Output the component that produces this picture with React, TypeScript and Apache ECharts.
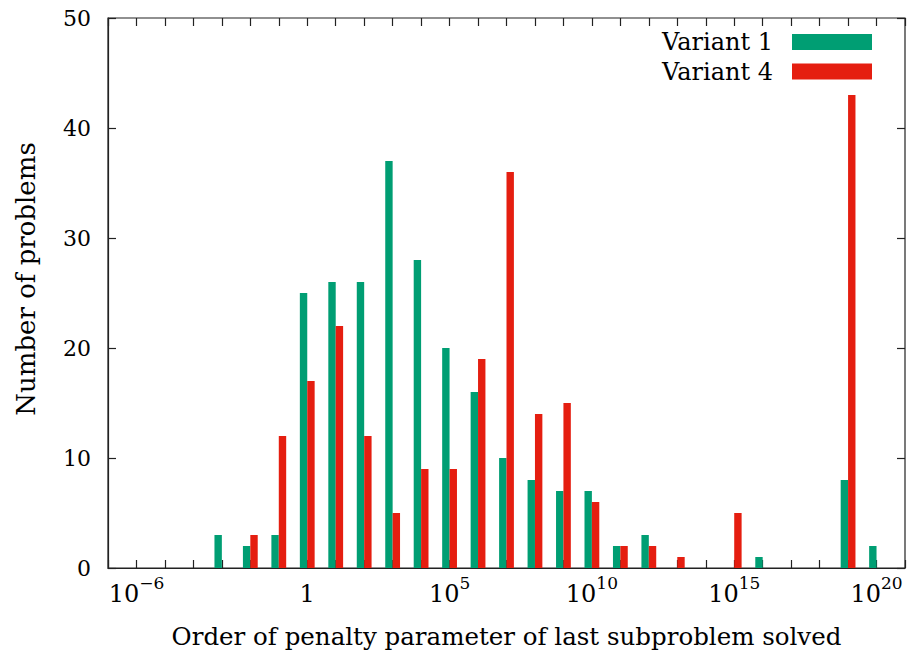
import React, { useEffect, useRef } from "react";
import * as echarts from "echarts";

// Exponent n of the penalty parameter (10^n)
const exponents = [-3, -2, -1, 0, 1, 2, 3, 4, 5, 6, 7, 8, 9, 10, 11, 12, 13, 14, 15, 16, 17, 18, 19, 20];
const variant1 = [3, 2, 3, 25, 26, 26, 37, 28, 20, 16, 10, 8, 7, 7, 2, 3, 0, 0, 0, 1, 0, 0, 8, 2];
const variant4 = [0, 3, 12, 17, 22, 12, 5, 9, 9, 19, 36, 14, 15, 6, 2, 2, 1, 0, 5, 0, 0, 0, 43, 0];
const labeledExponents = [-6, 0, 5, 10, 15, 20];
const yTicks = [0, 10, 20, 30, 40, 50];

const FONT = "DejaVu Serif";
const GREEN = "#009e73";
const RED = "#e51e10";

export default function App() {
  const ref = useRef<HTMLDivElement>(null);
  useEffect(() => {
    if (!ref.current) return;
    const chart = echarts.init(ref.current, undefined, { renderer: "svg" });
    const toData = (vals: number[]) =>
      exponents.map((e, i) => [e, vals[i]]).filter((d) => d[1] > 0);
    const tickFmt = (v: number) => {
      const e = Math.round(v);
      if (!labeledExponents.includes(e)) return "";
      if (e === 0) return "{b|1}";
      const s = e < 0 ? "\u2212" + -e : String(e);
      return "{b|10}{s|" + s + "}";
    };
    const axisLineStyle = { color: "#222", width: 1.2 };
    chart.setOption({
      animation: false,
      backgroundColor: "#fff",
      grid: {
        left: 108,
        top: 18,
        width: 799,
        height: 550,
        show: true,
        borderColor: "#222",
        borderWidth: 1.2,
        backgroundColor: "transparent",
      },
      legend: {
        orient: "vertical",
        right: 36,
        top: 30,
        padding: 0,
        itemWidth: 80,
        itemHeight: 16,
        itemGap: 5.5,
        align: "right",
        icon: "rect",
        data: ["Variant 1", "Variant 4"],
        textStyle: {
          fontFamily: FONT,
          fontSize: 24,
          lineHeight: 24,
          color: "#000",
          padding: [0, 14, 0, 0],
        },
      },
      xAxis: [
        {
          type: "value",
          min: -7,
          max: 21,
          interval: 1,
          name: "Order of penalty parameter of last subproblem solved",
          nameLocation: "middle",
          nameGap: 56,
          nameTextStyle: { fontFamily: FONT, fontSize: 24.5, color: "#000" },
          axisLine: { show: true, onZero: false, lineStyle: axisLineStyle },
          axisTick: { show: true, inside: true, length: 8, lineStyle: axisLineStyle },
          splitLine: { show: false },
          axisLabel: {
            margin: 6,
            formatter: tickFmt,
            showMinLabel: true,
            showMaxLabel: true,
            rich: {
              b: { fontFamily: FONT, fontSize: 24, lineHeight: 32, verticalAlign: "bottom", color: "#000" },
              s: { fontFamily: FONT, fontSize: 17, lineHeight: 32, verticalAlign: "top", color: "#000" },
            },
          },
        },
        {
          type: "value",
          position: "top",
          min: -7,
          max: 21,
          interval: 1,
          axisLine: { show: false, onZero: false },
          axisTick: { show: true, inside: true, length: 8, lineStyle: axisLineStyle },
          axisLabel: { show: false },
          splitLine: { show: false },
        },
      ],
      yAxis: [
        {
          type: "value",
          min: yTicks[0],
          max: yTicks[yTicks.length - 1],
          interval: 10,
          name: "Number of problems",
          nameLocation: "middle",
          nameRotate: 90,
          nameGap: 69,
          nameTextStyle: { fontFamily: FONT, fontSize: 26, color: "#000", padding: [0, 0, 0, 28] },
          axisLine: { show: true, onZero: false, lineStyle: axisLineStyle },
          axisTick: { show: true, inside: true, length: 8, lineStyle: axisLineStyle },
          splitLine: { show: false },
          axisLabel: { fontFamily: FONT, fontSize: 22, color: "#000", margin: 17 },
        },
        {
          type: "value",
          position: "right",
          min: yTicks[0],
          max: yTicks[yTicks.length - 1],
          interval: 10,
          axisLine: { show: false, onZero: false },
          axisTick: { show: true, inside: true, length: 8, lineStyle: axisLineStyle },
          axisLabel: { show: false },
          splitLine: { show: false },
        },
      ],
      series: [
        {
          name: "Variant 1",
          type: "bar",
          xAxisIndex: 0,
          yAxisIndex: 0,
          barWidth: 7.4,
          barGap: "0%",
          itemStyle: { color: GREEN },
          data: toData(variant1),
        },
        {
          name: "Variant 4",
          type: "bar",
          xAxisIndex: 0,
          yAxisIndex: 0,
          barWidth: 7.4,
          barGap: "0%",
          itemStyle: { color: RED },
          data: toData(variant4),
        },
      ],
    });
    return () => chart.dispose();
  }, []);
  return (
    <div
      ref={ref}
      style={{ position: "fixed", left: 0, top: 0, width: 908, height: 658, background: "#fff" }}
    />
  );
}
